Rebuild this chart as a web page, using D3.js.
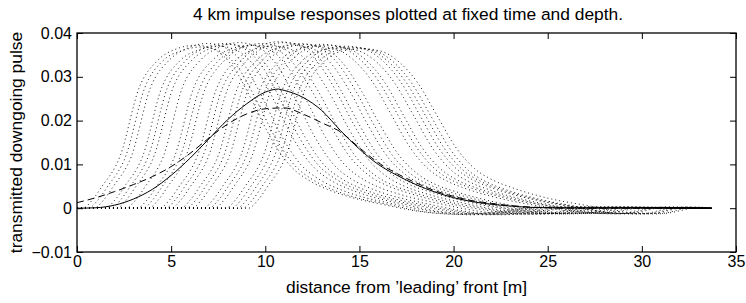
<!DOCTYPE html>
<html><head><meta charset="utf-8">
<script src="https://cdn.jsdelivr.net/npm/d3@7"></script>
<style>
body{margin:0;background:#fff}
svg{display:block}
text{font-family:"Liberation Sans",Arial,Helvetica,sans-serif;fill:#000}
</style>
</head><body>
<svg id="chart" width="746" height="303"></svg>
<script>
// ---- tick labels / text ----
const xTicks = [0, 5, 10, 15, 20, 25, 30, 35];
const yTicks = [-0.01, 0, 0.01, 0.02, 0.03, 0.04];
const titleText = "4 km impulse responses plotted at fixed time and depth.";
const xLabelText = "distance from \u2019leading\u2019 front [m]";
const yLabelText = "transmitted downgoing pulse";

// ---- solid curve ----
const solidX = [0,1,2,3,4,5,6,7,8,9,10,10.7,11,12,13,14,15,16,17,18,19,20,21,22,23,24,25,27,30,33.7];
const solidY = [0,0.0001,0.0007,0.0021,0.0043,0.0075,0.0114,0.0158,0.0202,0.0238,0.0265,0.0272,0.0269,0.0253,0.0223,0.0177,0.0135,0.0100,0.0075,0.0054,0.0037,0.0024,0.0015,0.0009,0.0005,0.0002,0.0001,0,0,0];

// ---- dashed curve ----
const dashX = [0,1,2,3,4,5,6,7,8,9,10,11,12,13,14,15,16,17,18,19,20,21,22,23,24,25,27,30,33.7];
const dashY = [0.00126,0.0024,0.0038,0.0054,0.0072,0.0095,0.0125,0.0160,0.0192,0.0215,0.0227,0.0229,0.0215,0.0195,0.0174,0.0138,0.0104,0.0079,0.0058,0.0040,0.0027,0.0017,0.0011,0.0006,0.0003,0.0001,0,0,0];

// ---- dotted curves ([x, y] pairs) ----
const dot01 = [[0,0],[0.3,0],[0.8,.0018],[1.3,.0048],[2.3,.0120],[3.3,.0275],[4.3,.0338],[5.3,.0364],[6.3,.0372],[7.3,.0362],[8.3,.0322],[9.3,.0245],[10.3,.0160],[11.3,.0098],[12.3,.0064],[13.3,.0043],[14.3,.0028],[16.3,.0008],[18.3,-.0008],[20.3,-.0014],[22.3,-.0008],[24.3,.0002],[33.7,0]];
const dot02 = [[0,0],[0.9,0],[1.4,.0018],[1.9,.0048],[2.9,.0120],[3.9,.0275],[4.9,.0338],[5.9,.0366],[6.9,.0376],[7.9,.0366],[8.9,.0326],[9.9,.0248],[10.9,.0162],[11.9,.0099],[12.9,.0065],[13.9,.0044],[14.9,.0029],[16.9,.0009],[18.9,-.0007],[20.9,-.0015],[22.9,-.0009],[24.9,.0002],[33.7,0]];
const dot03 = [[0,0],[1.5,0],[2,.0018],[2.5,.0048],[3.5,.0120],[4.5,.0275],[5.5,.0338],[6.5,.0362],[7.5,.0370],[8.5,.0360],[9.5,.0320],[10.5,.0243],[11.5,.0158],[12.5,.0097],[13.5,.0063],[14.5,.0043],[15.5,.0028],[17.5,.0008],[19.5,-.0009],[21.5,-.0013],[23.5,-.0007],[25.5,.0003],[33.7,0]];
const dot04 = [[0,0],[2.1,0],[2.6,.0018],[3.1,.0048],[4.1,.0120],[5.1,.0275],[6.1,.0338],[7.1,.0365],[8.1,.0374],[9.1,.0364],[10.1,.0324],[11.1,.0247],[12.1,.0163],[13.1,.0100],[14.1,.0066],[15.1,.0045],[16.1,.0030],[18.1,.0010],[20.1,-.0006],[22.1,-.0014],[24.1,-.0009],[26.1,.0001],[33.7,0]];
const dot05 = [[0,0],[2.6,0],[3.1,.0018],[3.6,.0048],[4.6,.0120],[5.6,.0276],[6.6,.0340],[7.6,.0368],[8.6,.0378],[9.6,.0368],[10.6,.0328],[11.6,.0250],[12.6,.0165],[13.6,.0101],[14.6,.0066],[15.6,.0045],[16.6,.0030],[18.6,.0010],[20.6,-.0007],[22.6,-.0015],[24.6,-.0008],[26.6,.0003],[33.7,0]];
const dot06 = [[0,0],[3.2,0],[3.7,.0018],[4.2,.0048],[5.2,.0120],[6.2,.0275],[7.2,.0338],[8.2,.0364],[9.2,.0372],[10.2,.0362],[11.2,.0322],[12.2,.0245],[13.2,.0162],[14.2,.0100],[15.2,.0066],[16.2,.0045],[17.2,.0031],[19.2,.0011],[21.2,-.0006],[23.2,-.0014],[25.2,-.0010],[27.2,.0002],[33.7,0]];
const dot07 = [[0,0],[3.8,0],[4.3,.0018],[4.8,.0048],[5.8,.0120],[6.8,.0272],[7.8,.0336],[8.8,.0367],[9.8,.0376],[10.8,.0368],[11.8,.0333],[12.8,.0268],[13.8,.0188],[14.8,.0118],[15.8,.0076],[16.8,.0052],[17.8,.0037],[19.8,.0014],[21.8,-.0002],[23.8,-.0013],[25.8,-.0011],[27.8,.0001],[33.7,0]];
const dot08 = [[0,0],[4.4,0],[4.9,.0018],[5.4,.0048],[6.4,.0120],[7.4,.0272],[8.4,.0336],[9.4,.0362],[10.4,.0370],[11.4,.0362],[12.4,.0328],[13.4,.0264],[14.4,.0184],[15.4,.0115],[16.4,.0074],[17.4,.0050],[18.4,.0035],[20.4,.0013],[22.4,-.0004],[24.4,-.0014],[26.4,-.0009],[28.4,.0003],[33.7,0]];
const dot09 = [[0,0],[5,0],[5.5,.0018],[6,.0048],[7,.0120],[8,.0272],[9,.0336],[10,.0368],[11,.0378],[12,.0370],[13,.0336],[14,.0270],[15,.0190],[16,.0120],[17,.0077],[18,.0053],[19,.0038],[21,.0015],[23,-.0002],[25,-.0012],[27,-.0011],[29,.0002],[33.7,0]];
const dot10 = [[0,0],[5.5,0],[6,.0018],[6.5,.0048],[7.5,.0120],[8.5,.0272],[9.5,.0336],[10.5,.0364],[11.5,.0372],[12.5,.0364],[13.5,.0330],[14.5,.0266],[15.5,.0186],[16.5,.0117],[17.5,.0075],[18.5,.0051],[19.5,.0036],[21.5,.0013],[23.5,-.0003],[25.5,-.0013],[27.5,-.0010],[29.5,.0002],[33.7,0]];
const dot11 = [[0,0],[6.1,0],[6.6,.0018],[7.1,.0048],[8.1,.0120],[9.1,.0272],[10.1,.0336],[11.1,.0365],[12.1,.0374],[13.1,.0366],[14.1,.0332],[15.1,.0268],[16.1,.0190],[17.1,.0121],[18.1,.0078],[19.1,.0053],[20.1,.0038],[22.1,.0015],[24.1,-.0001],[26.1,-.0012],[28.1,-.0011],[30.1,.0001],[33.7,0]];
const dot12 = [[0,0],[6.7,0],[7.2,.0018],[7.7,.0048],[8.7,.0120],[9.7,.0270],[10.7,.0334],[11.7,.0363],[12.7,.0370],[13.7,.0364],[14.7,.0338],[15.7,.0288],[16.7,.0213],[17.7,.0138],[18.7,.0088],[19.7,.0061],[20.7,.0044],[22.7,.0020],[24.7,.0004],[26.7,-.0010],[28.7,-.0013],[30.7,.0002],[33.7,0]];
const dot13 = [[0,0],[7.3,0],[7.8,.0018],[8.3,.0048],[9.3,.0120],[10.3,.0270],[11.3,.0334],[12.3,.0365],[13.3,.0372],[14.3,.0366],[15.3,.0340],[16.3,.0290],[17.3,.0215],[18.3,.0140],[19.3,.0090],[20.3,.0062],[21.3,.0045],[23.3,.0021],[25.3,.0004],[27.3,-.0010],[29.3,-.0012],[31.3,.0003],[33.7,0]];
const dot14 = [[0,0],[7.9,0],[8.4,.0018],[8.9,.0048],[9.9,.0120],[10.9,.0270],[11.9,.0334],[12.9,.0360],[13.9,.0366],[14.9,.0360],[15.9,.0334],[16.9,.0284],[17.9,.0210],[18.9,.0136],[19.9,.0086],[20.9,.0059],[21.9,.0042],[23.9,.0018],[25.9,.0002],[27.9,-.0012],[29.9,-.0013],[31.9,.0002],[33.7,0]];
const dot15 = [[0,0],[8.5,0],[9,.0018],[9.5,.0048],[10.5,.0120],[11.5,.0270],[12.5,.0334],[13.5,.0362],[14.5,.0368],[15.5,.0362],[16.5,.0336],[17.5,.0286],[18.5,.0212],[19.5,.0137],[20.5,.0087],[21.5,.0060],[22.5,.0043],[24.5,.0019],[26.5,.0003],[28.5,-.0011],[30.5,-.0012],[32.5,.0003],[33.7,0]];
const dot16 = [[0,0],[9.1,0],[9.6,.0018],[10.1,.0048],[11.1,.0120],[12.1,.0270],[13.1,.0334],[14.1,.0359],[15.1,.0364],[16.1,.0359],[17.1,.0334],[18.1,.0286],[19.1,.0213],[20.1,.0140],[21.1,.0091],[22.1,.0064],[23.1,.0047],[25.1,.0022],[27.1,.0006],[29.1,-.0009],[31.1,-.0012],[33.1,.0002],[33.7,0]];
const dot17 = [[0,0],[0.6,0],[1.1,.0018],[1.6,.0048],[2.6,.0120],[3.6,.0275],[4.6,.0338],[5.6,.0360],[6.6,.0368],[7.6,.0358],[8.6,.0318],[9.6,.0240],[10.6,.0156],[11.6,.0096],[12.6,.0063],[13.6,.0042],[14.6,.0027],[16.6,.0008],[18.6,-.0009],[20.6,-.0014],[22.6,-.0008],[24.6,.0002],[33.7,0]];
const dot18 = [[0,0],[1.8,0],[2.3,.0018],[2.8,.0048],[3.8,.0120],[4.8,.0275],[5.8,.0338],[6.8,.0366],[7.8,.0376],[8.8,.0366],[9.8,.0326],[10.8,.0248],[11.8,.0162],[12.8,.0099],[13.8,.0065],[14.8,.0044],[15.8,.0029],[17.8,.0009],[19.8,-.0007],[21.8,-.0015],[23.8,-.0009],[25.8,.0002],[33.7,0]];
const dot19 = [[0,0],[3.5,0],[4,.0018],[4.5,.0048],[5.5,.0120],[6.5,.0272],[7.5,.0336],[8.5,.0364],[9.5,.0372],[10.5,.0364],[11.5,.0330],[12.5,.0266],[13.5,.0186],[14.5,.0117],[15.5,.0075],[16.5,.0051],[17.5,.0036],[19.5,.0013],[21.5,-.0003],[23.5,-.0013],[25.5,-.0010],[27.5,.0002],[33.7,0]];
const dot20 = [[0,0],[4.7,0],[5.2,.0018],[5.7,.0048],[6.7,.0120],[7.7,.0272],[8.7,.0336],[9.7,.0370],[10.7,.0380],[11.7,.0372],[12.7,.0338],[13.7,.0272],[14.7,.0191],[15.7,.0121],[16.7,.0078],[17.7,.0053],[18.7,.0038],[20.7,.0015],[22.7,-.0002],[24.7,-.0012],[26.7,-.0011],[28.7,.0002],[33.7,0]];
const dot21 = [[0,0],[5.8,0],[6.3,.0018],[6.8,.0048],[7.8,.0120],[8.8,.0272],[9.8,.0336],[10.8,.0367],[11.8,.0376],[12.8,.0368],[13.8,.0333],[14.8,.0268],[15.8,.0188],[16.8,.0118],[17.8,.0076],[18.8,.0052],[19.8,.0037],[21.8,.0014],[23.8,-.0002],[25.8,-.0013],[27.8,-.0011],[29.8,.0001],[33.7,0]];
const dot22 = [[0,0],[7,0],[7.5,.0018],[8,.0048],[9,.0120],[10,.0270],[11,.0334],[12,.0366],[13,.0374],[14,.0368],[15,.0341],[16,.0291],[17,.0216],[18,.0141],[19,.0090],[20,.0062],[21,.0045],[23,.0021],[25,.0005],[27,-.0010],[29,-.0012],[31,.0002],[33.7,0]];
const dot23 = [[0,0],[8.2,0],[8.7,.0018],[9.2,.0048],[10.2,.0120],[11.2,.0270],[12.2,.0334],[13.2,.0363],[14.2,.0370],[15.2,.0364],[16.2,.0338],[17.2,.0288],[18.2,.0213],[19.2,.0138],[20.2,.0088],[21.2,.0061],[22.2,.0044],[24.2,.0020],[26.2,.0004],[28.2,-.0010],[30.2,-.0013],[32.2,.0002],[33.7,0]];
const dot24 = [[0,0],[8.8,0],[9.3,.0018],[9.8,.0048],[10.8,.0120],[11.8,.0270],[12.8,.0334],[13.8,.0360],[14.8,.0366],[15.8,.0360],[16.8,.0334],[17.8,.0284],[18.8,.0210],[19.8,.0136],[20.8,.0086],[21.8,.0059],[22.8,.0042],[24.8,.0018],[26.8,.0002],[28.8,-.0012],[30.8,-.0013],[32.8,.0002],[33.7,0]];
const dottedSeries = [dot01,dot17,dot02,dot03,dot18,dot04,dot05,dot06,dot19,dot07,dot08,dot20,dot09,dot10,dot21,dot11,dot12,dot22,dot13,dot14,dot23,dot15,dot24,dot16];

// ---- layout ----
const W = 746, H = 303;
const plot = {left: 77, right: 736, top: 33, bottom: 252};
const svg = d3.select("#chart");
svg.append("rect").attr("width", W).attr("height", H).attr("fill", "#fff");

const x = d3.scaleLinear().domain([0, 35]).range([plot.left, plot.right]);
const y = d3.scaleLinear().domain([-0.01, 0.04]).range([plot.bottom, plot.top]);

const line = d3.line().x(d => x(d[0])).y(d => y(d[1])).curve(d3.curveMonotoneX);

// dotted curves
const gDots = svg.append("g");
dottedSeries.forEach(s => {
  gDots.append("path").attr("d", line(s))
    .attr("fill", "none").attr("stroke", "#000")
    .attr("stroke-width", 0.9).attr("stroke-dasharray", "1,3");
});

// dashed
svg.append("path").attr("d", line(dashX.map((v, i) => [v, dashY[i]])))
  .attr("fill", "none").attr("stroke", "#000").attr("stroke-width", 1)
  .attr("stroke-dasharray", "7,4");

// solid
svg.append("path").attr("d", line(solidX.map((v, i) => [v, solidY[i]])))
  .attr("fill", "none").attr("stroke", "#000").attr("stroke-width", 1);

// axes
const yFmt = d => d === 0 ? "0" : d3.format(".2f")(d);
function styleAxis(g) {
  g.select(".domain").remove();
  g.selectAll("line").attr("stroke", "#000").attr("stroke-width", 1);
  g.selectAll("text").attr("font-size", 16).attr("font-family", '"Liberation Sans",Arial,sans-serif').attr("fill", "#000");
}
svg.append("g").attr("transform", `translate(0,${plot.bottom})`)
  .call(d3.axisBottom(x).tickValues(xTicks).tickSizeInner(-6).tickSizeOuter(0).tickPadding(4).tickFormat(d3.format("d")))
  .call(styleAxis);
svg.append("g").attr("transform", `translate(0,${plot.top})`)
  .call(d3.axisTop(x).tickValues(xTicks).tickSizeInner(-6).tickSizeOuter(0).tickFormat(""))
  .call(styleAxis);
svg.append("g").attr("transform", `translate(${plot.left},0)`)
  .call(d3.axisLeft(y).tickValues(yTicks).tickSizeInner(-6).tickSizeOuter(0).tickPadding(5).tickFormat(yFmt))
  .call(styleAxis);
svg.append("g").attr("transform", `translate(${plot.right},0)`)
  .call(d3.axisRight(y).tickValues(yTicks).tickSizeInner(-6).tickSizeOuter(0).tickFormat(""))
  .call(styleAxis);

svg.append("rect")
  .attr("x", plot.left).attr("y", plot.top)
  .attr("width", plot.right - plot.left).attr("height", plot.bottom - plot.top)
  .attr("fill", "none").attr("stroke", "#000").attr("stroke-width", 1.3);

// texts
svg.append("text").attr("x", 408).attr("y", 20).attr("text-anchor", "middle")
  .attr("font-size", 17.4).text(titleText);
svg.append("text").attr("x", (plot.left + plot.right) / 2).attr("y", 293).attr("text-anchor", "middle")
  .attr("font-size", 17.4).text(xLabelText);
svg.append("text").attr("transform", `translate(22,${(plot.top + plot.bottom) / 2}) rotate(-90)`)
  .attr("text-anchor", "middle").attr("font-size", 17.4).text(yLabelText);
</script>
</body></html>
